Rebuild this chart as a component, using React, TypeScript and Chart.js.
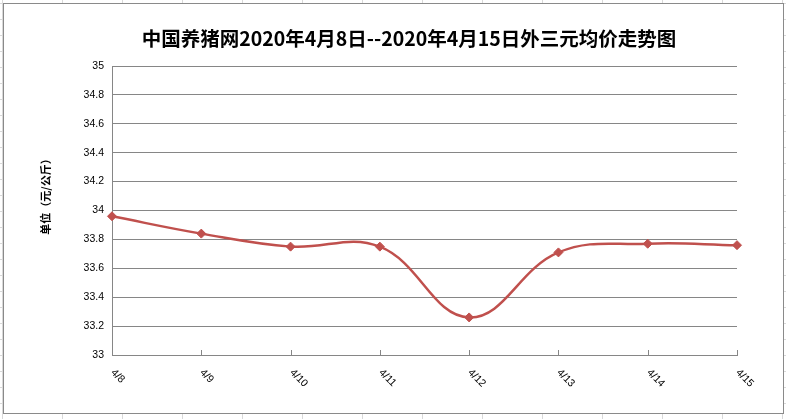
import React, { useEffect, useRef } from "react";
import { Chart, registerables } from "chart.js";

Chart.register(...registerables);

const chartTitle = "中国养猪网2020年4月8日--2020年4月15日外三元均价走势图";
const yAxisTitle = "单位（元/公斤）";
const categories = ["4/8", "4/9", "4/10", "4/11", "4/12", "4/13", "4/14", "4/15"];
const prices = [33.96, 33.84, 33.75, 33.75, 33.26, 33.71, 33.77, 33.76];
const yMin = 33;
const yMax = 35;
const yStep = 0.2;

const LINE_COLOR = "#C0504D";
const AXIS_COLOR = "#868686";

const decorPlugin = {
  id: "decor",
  afterDraw(chart: any) {
    const ctx = chart.ctx as CanvasRenderingContext2D;
    const xScale = chart.scales.x;
    const area = chart.chartArea;
    ctx.save();
    // title
    ctx.fillStyle = "#000";
    ctx.font = 'bold 19.5px "Noto Sans CJK SC", sans-serif';
    ctx.textAlign = "center";
    ctx.textBaseline = "middle";
    ctx.fillText(chartTitle, 409, 39);

    // y axis title
    ctx.save();
    ctx.translate(46, 194);
    ctx.rotate(-Math.PI / 2);
    ctx.font = 'bold 11px "Noto Sans CJK SC", sans-serif';
    ctx.fillText(yAxisTitle, 0, 0);
    ctx.restore();

    // x tick marks (inside) and rotated labels
    ctx.strokeStyle = AXIS_COLOR;
    ctx.lineWidth = 1;
    ctx.font = '10.5px "Liberation Sans", Arial, sans-serif';
    ctx.textAlign = "left";
    ctx.textBaseline = "middle";
    categories.forEach((label, i) => {
      const x = Math.round(xScale.getPixelForValue(i)) + 0.5;
      ctx.beginPath();
      ctx.moveTo(x, area.bottom);
      ctx.lineTo(x, area.bottom - 5);
      ctx.stroke();
      ctx.save();
      ctx.translate(x, area.bottom + 16);
      ctx.rotate(Math.PI / 4);
      ctx.fillStyle = "#000";
      ctx.fillText(label, 0, 0);
      ctx.restore();
    });
    ctx.restore();
  },
};

export default function App() {
  const canvasRef = useRef<HTMLCanvasElement | null>(null);

  useEffect(() => {
    const canvas = canvasRef.current;
    if (!canvas) return;
    const chart = new Chart(canvas, {
      type: "line",
      data: {
        labels: categories,
        datasets: [
          {
            data: prices,
            borderColor: LINE_COLOR,
            backgroundColor: LINE_COLOR,
            borderWidth: 2.5,
            tension: 0.4,
            pointStyle: "rectRot",
            pointRadius: 4.5,
            pointBackgroundColor: LINE_COLOR,
            pointBorderColor: LINE_COLOR,
            pointBorderWidth: 1,
            clip: false as any,
          },
        ],
      },
      options: {
        animation: false,
        responsive: false,
        devicePixelRatio: 1,
        layout: { padding: { top: 66, right: 49, bottom: 0, left: 0 } },
        plugins: {
          legend: { display: false },
          title: { display: false },
          tooltip: { enabled: false },
        },
        scales: {
          x: {
            type: "category",
            offset: false,
            grid: { display: false, drawTicks: false },
            border: { display: true, color: AXIS_COLOR, width: 1 },
            ticks: { display: false },
            afterFit: (scale: any) => {
              scale.height = 64;
            },
          },
          y: {
            min: yMin,
            max: yMax,
            grid: { color: AXIS_COLOR, lineWidth: 1, drawTicks: false },
            border: { display: true, color: AXIS_COLOR, width: 1 },
            ticks: {
              stepSize: yStep,
              padding: 8,
              color: "#000",
              font: { family: '"Liberation Sans", Arial, sans-serif', size: 10.5 },
              callback: (v: any) => String(Number(Number(v).toFixed(1))),
            },
            afterFit: (scale: any) => {
              scale.width = 112;
            },
          },
        },
      },
      plugins: [decorPlugin],
    });
    return () => chart.destroy();
  }, []);

  return (
    <div
      style={{
        position: "fixed",
        left: 0,
        top: 0,
        width: 786,
        height: 419,
        backgroundColor: "#fff",
        backgroundImage:
          "linear-gradient(to right, #d9d9d9 1px, transparent 1px), linear-gradient(to bottom, #d9d9d9 1px, transparent 1px)",
        backgroundSize: "60px 16px",
        backgroundPosition: "2px 3px",
        overflow: "hidden",
      }}
    >
      <div
        style={{
          position: "absolute",
          left: 3,
          top: 3,
          width: 781,
          height: 411,
          boxSizing: "border-box",
          border: "1px solid #8a8a8a",
          background: "#fff",
        }}
      />
      <canvas
        ref={canvasRef}
        width={786}
        height={419}
        style={{ position: "absolute", left: 0, top: 0, width: 786, height: 419 }}
      />
    </div>
  );
}
